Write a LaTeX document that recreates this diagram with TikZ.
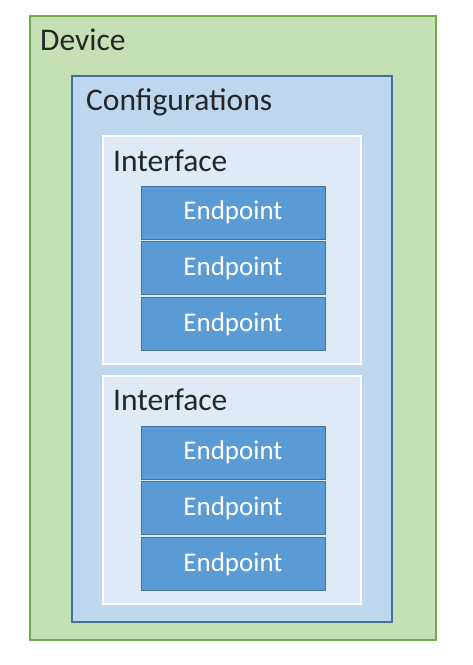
\documentclass[tikz,border=0pt]{standalone}
\usepackage{fontspec}
\setmainfont{Carlito}
\usepackage{xcolor}
\usetikzlibrary{positioning}
\definecolor{devgreen}{HTML}{C5E0B4}
\definecolor{devborder}{HTML}{70AD47}
\definecolor{cfgblue}{HTML}{BDD7EE}
\definecolor{cfgborder}{HTML}{41719C}
\definecolor{ifblue}{HTML}{DEEBF7}
\definecolor{epblue}{HTML}{5B9BD5}
\definecolor{labelgray}{HTML}{262626}

\begin{document}
\begin{tikzpicture}[x=1pt, y=-1pt, node distance=2pt,
    box/.style={rectangle, inner sep=0pt, line width=1.2pt},
    device/.style={box, draw=devborder, fill=devgreen, minimum width=406pt, minimum height=624pt},
    config/.style={box, draw=cfgborder, fill=cfgblue, minimum width=320pt, minimum height=546pt},
    iface/.style={box, draw=white, fill=ifblue, minimum width=258pt, minimum height=228pt},
    endpoint/.style={box, line width=0.8pt, draw=cfgborder, fill=epblue, minimum width=184pt, minimum height=53pt, text=white, font=\fontsize{27}{32}\selectfont},
    label/.style={anchor=base west, inner sep=0pt, text=labelgray, font=\fontsize{31.5}{36}\selectfont}]
\useasboundingbox (0,0) rectangle (472,665);

\node[device] (device) at (233,328) {};
\node[config] (config) at (232,349) {};
\node[iface] (iface1) at (232,250) {};
\node[iface] (iface2) at (232,490) {};

\node[label] (devlabel) at (40,50) {Device};
\node[label] (cfglabel) at (86,110) {Configurations};
\node[label] (iflabel1) at (113,171) {Interface};
\node[label] (iflabel2) at (113,410) {Interface};

\node[endpoint] (ep1) at (233,212.5) {Endpoint};
\node[endpoint, below=of ep1] (ep2) {Endpoint};
\node[endpoint, below=of ep2] (ep3) {Endpoint};

\node[endpoint] (ep4) at (233,452.5) {Endpoint};
\node[endpoint, below=of ep4] (ep5) {Endpoint};
\node[endpoint, below=of ep5] (ep6) {Endpoint};

\end{tikzpicture}
\end{document}
